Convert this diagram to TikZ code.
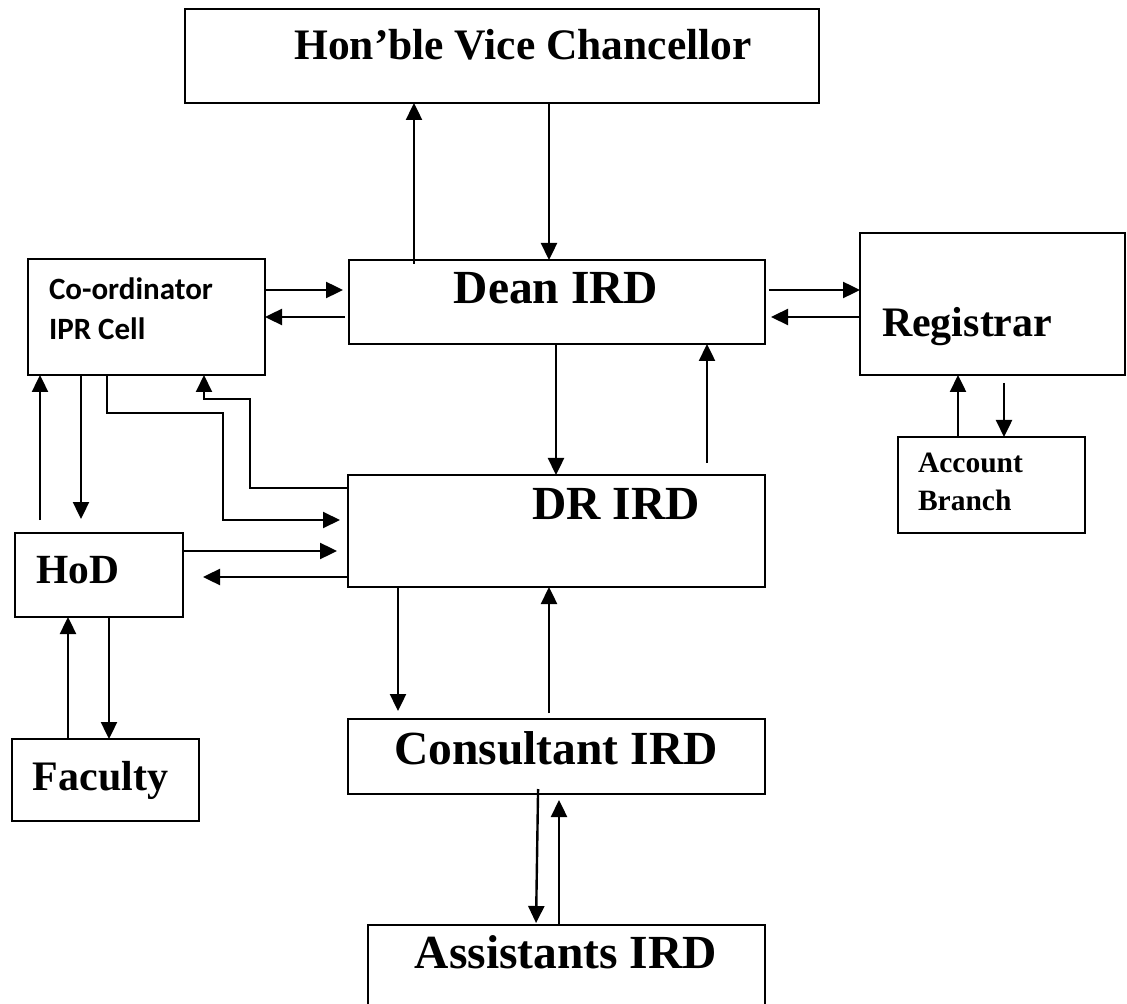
\documentclass[tikz,border=0pt]{standalone}
\usepackage{fontspec}
\setmainfont{Liberation Serif}
\newfontfamily\calibrifont{Carlito}
\usetikzlibrary{arrows.meta}
\begin{document}
\begin{tikzpicture}[x=0.5pt,y=-0.5pt,
  box/.style={draw=black,line width=1.4pt,inner sep=0pt,outer sep=0pt},
  lbl/.style={inner sep=0pt,outer sep=0pt,font=\bfseries},
  tip/.style={-{Triangle[length=8.5pt,width=8pt]}},
  arr/.style={line width=1.2pt,tip},
  route/.style={line width=1pt,tip}]
\useasboundingbox (0,0) rectangle (1127,1004);
\clip (0,0) rectangle (1127,1004);

% boxes
\node[box,minimum width=317pt,minimum height=47pt]   (vc)    at (502,56)    {};
\node[box,minimum width=208pt,minimum height=42pt]   (dean)  at (557,302)   {};
\node[box,minimum width=118.5pt,minimum height=58pt] (coord) at (146.5,317) {};
\node[box,minimum width=132.5pt,minimum height=71pt] (reg)   at (992.5,304) {};
\node[box,minimum width=93.5pt,minimum height=48pt]  (acc)   at (991.5,485) {};
\node[box,minimum width=208.5pt,minimum height=56pt] (dr)    at (556.5,531) {};
\node[box,minimum width=84pt,minimum height=42pt]    (hod)   at (99,575)    {};
\node[box,minimum width=93.5pt,minimum height=41pt]  (fac)   at (105.5,780) {};
\node[box,minimum width=208.5pt,minimum height=37.5pt] (cons) at (556.5,756.5) {};
\node[box,minimum width=198.5pt,minimum height=50pt] (asst)  at (566.5,975) {};

% labels
\node[lbl,anchor=base] (tvc) at (523,60) {\fontsize{21.75}{26}\selectfont Hon’ble Vice Chancellor};
\node[lbl,anchor=base] (tdean) at (556,304) {\fontsize{23.75}{28}\selectfont Dean IRD};
\node[lbl,anchor=base] (tdr) at (616,519) {\fontsize{23.75}{28}\selectfont DR IRD};
\node[lbl,anchor=base west] (treg) at (882,337) {\fontsize{21}{25}\selectfont Registrar};
\node[lbl,anchor=base west] (tacc1) at (918,473) {\fontsize{14.75}{18}\selectfont Account};
\node[lbl,anchor=base west] (tacc2) at (918,510) {\fontsize{14.75}{18}\selectfont Branch};
\node[lbl,anchor=base west] (tco1) at (49,300) {\calibrifont\fontsize{15.5}{19}\selectfont Co-ordinator};
\node[lbl,anchor=base west] (tco2) at (49,340) {\calibrifont\fontsize{15.5}{19}\selectfont IPR Cell};
\node[lbl,anchor=base west] (thod) at (36,583) {\fontsize{20.75}{25}\selectfont HoD};
\node[lbl,anchor=base] (tfac) at (100.5,790) {\fontsize{21}{25}\selectfont Faculty};
\node[lbl,anchor=base] (tcons) at (556,764) {\fontsize{23.75}{28}\selectfont Consultant IRD};
\node[lbl,anchor=base] (tasst) at (566,968) {\fontsize{23.75}{28}\selectfont Assistants IRD};

% Vice Chancellor <-> Dean
\draw[arr,shorten <=-2pt] (dean.north -| 414,0) -- (vc.south -| 414,0);
\draw[arr] (vc.south -| 549,0) -- (dean.north -| 549,0);

% Co-ordinator <-> Dean
\draw[arr,shorten >=3pt] (coord.east |- 0,290) -- (dean.west |- 0,290);
\draw[arr,shorten <=2pt] (dean.west |- 0,317) -- (coord.east |- 0,317);

% Dean <-> Registrar
\draw[arr,shorten <=2pt] (dean.east |- 0,290) -- (reg.west |- 0,290);
\draw[arr,shorten >=3pt] (reg.west |- 0,317) -- (dean.east |- 0,317);

% Dean <-> DR
\draw[arr] (dean.south -| 556,0) -- (dr.north -| 556,0);
\draw[arr,shorten <=6pt] (dr.north -| 707,0) -- (dean.south -| 707,0);

% Registrar <-> Account Branch
\draw[arr] (acc.north -| 958,0) -- (reg.south -| 958,0);
\draw[arr,shorten <=4pt] (reg.south -| 1004,0) -- (acc.north -| 1004,0);

% Co-ordinator <-> HoD
\draw[arr,shorten <=6.5pt] (hod.north -| 40,0) -- (coord.south -| 40,0);
\draw[arr,shorten >=7pt] (coord.south -| 81,0) -- (hod.north -| 81,0);

% Co-ordinator <-> DR (routed)
\draw[route,shorten >=4pt]
  (coord.south -| 107,0) -- (107,413) -- (223,413) -- (223,520) -- (dr.west |- 0,520);
\draw[route]
  (dr.west |- 0,488) -- (250,488) -- (250,399) -- (204,399) -- (coord.south -| 204,0);

% HoD <-> DR
\draw[arr,shorten >=5.5pt] (hod.east |- 0,551) -- (dr.west |- 0,551);
\draw[arr,shorten >=10pt] (dr.west |- 0,577) -- (hod.east |- 0,577);

% HoD <-> Faculty
\draw[arr] (fac.north -| 68,0) -- (hod.south -| 68,0);
\draw[arr] (hod.south -| 109,0) -- (fac.north -| 109,0);

% DR <-> Consultant
\draw[arr,shorten >=4pt] (dr.south -| 398,0) -- (cons.north -| 398,0);
\draw[arr,shorten <=3pt] (cons.north -| 549,0) -- (dr.south -| 549,0);

% Consultant <-> Assistants
\draw[arr,shorten <=-2.5pt,shorten >=1pt] (cons.south -| 538,0) -- (asst.north -| 536,0);
\draw[arr,shorten >=3pt] (asst.north -| 559,0) -- (cons.south -| 559,0);
\end{tikzpicture}
\end{document}
